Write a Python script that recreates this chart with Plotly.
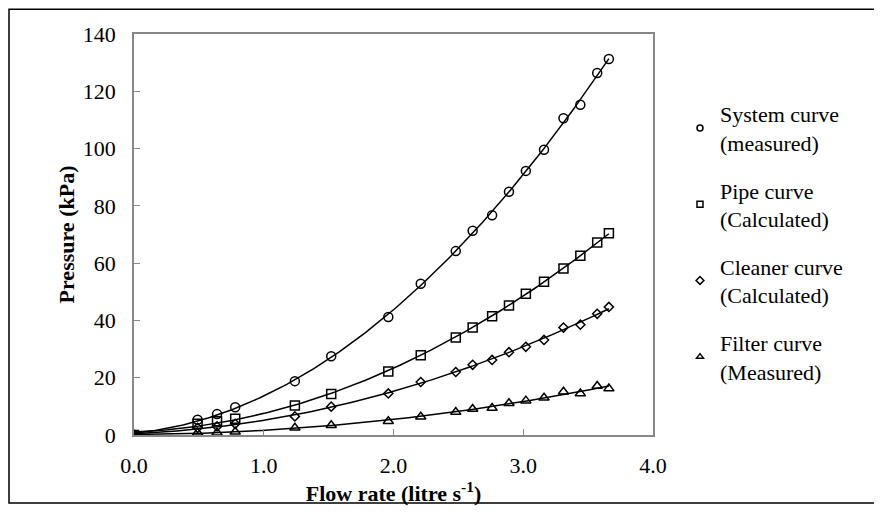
import numpy as np
import plotly.graph_objects as go

flow = [0.0, 0.49, 0.64, 0.78, 1.24, 1.52, 1.96, 2.21, 2.48, 2.61, 2.76, 2.89, 3.02, 3.16, 3.31, 3.44, 3.57, 3.66]
system = [0.0, 5.3, 7.3, 9.7, 18.8, 27.5, 41.2, 52.8, 64.2, 71.3, 76.7, 84.9, 92.2, 99.6, 110.6, 115.3, 126.4, 131.3]
pipe = [0.0, 3.9, 4.8, 5.7, 10.3, 14.3, 22.2, 27.8, 34.0, 37.5, 41.5, 45.2, 49.3, 53.5, 58.1, 62.6, 67.2, 70.4]
cleaner = [0.0, 2.5, 3.0, 3.9, 6.5, 9.9, 14.5, 18.5, 22.0, 24.5, 26.2, 28.9, 30.8, 33.2, 37.5, 38.5, 42.3, 44.7]
filt = [0.0, 0.8, 0.8, 1.1, 2.5, 3.4, 4.8, 6.4, 8.0, 9.1, 9.4, 11.1, 12.0, 13.0, 15.1, 14.5, 17.1, 16.2]

names = ["System curve<br>(measured)", "Pipe curve<br>(Calculated)",
         "Cleaner curve<br>(Calculated)", "Filter curve<br>(Measured)"]
series = [system, pipe, cleaner, filt]
symbols = ["circle-open", "square-open", "diamond-open", "triangle-up-open"]
sizes = [9, 9, 7, 9]

fig = go.Figure()
xfine = np.linspace(0, max(flow), 200)
for ys in series:
    # 2nd-order polynomial trendline fitted to each series (as in the original chart)
    coef = np.polyfit(flow, ys, 2)
    fig.add_trace(go.Scatter(x=xfine, y=np.polyval(coef, xfine), mode="lines",
                             line=dict(color="black", width=1.5), showlegend=False,
                             hoverinfo="skip"))
for i, (ys, sym, sz) in enumerate(zip(series, symbols, sizes)):
    fig.add_trace(go.Scatter(x=flow, y=ys, mode="markers", showlegend=False,
                             marker=dict(symbol=sym, size=sz, color="black",
                                         line=dict(color="black", width=1.5))))
# legend entries with small symbols, like the original legend
for i, (nm, sym) in enumerate(zip(names, symbols)):
    fig.add_trace(go.Scatter(x=[None], y=[None], mode="markers", name=nm, legendgroup=str(i),
                             marker=dict(symbol=sym, size=6, color="black",
                                         line=dict(color="black", width=1.5))))

font = "Liberation Serif, Times New Roman, serif"
W, H = 874, 504
L, R, T, B = 126, 229, 26, 71
pw, ph = W - L - R, H - T - B
fig.update_layout(
    width=W, height=H,
    margin=dict(l=L, r=R, t=T, b=B),
    paper_bgcolor="white", plot_bgcolor="white",
    font=dict(family=font, size=22, color="black"),
    legend=dict(x=1.052, y=0.853, xanchor="left", yanchor="top", tracegroupgap=16,
                font=dict(family=font, size=22, color="black"), itemwidth=30,
                bgcolor="rgba(0,0,0,0)"),
    xaxis=dict(range=[0, 4], tickvals=[0, 1, 2, 3, 4], tickformat=".1f",
               showgrid=False, zeroline=False, showline=True, mirror=True,
               linecolor="#888888", linewidth=1.5, ticks="inside", ticklen=6,
               tickcolor="#888888", tickfont=dict(size=22), ticklabelstandoff=10,
               title=dict(text="<b>Flow rate (litre s<sup>-1</sup>)</b>", font=dict(size=22), standoff=6)),
    yaxis=dict(range=[0, 140], tickvals=[0, 20, 40, 60, 80, 100, 120, 140],
               showgrid=False, zeroline=False, showline=True, mirror=True,
               linecolor="#888888", linewidth=1.5, ticks="inside", ticklen=6,
               tickcolor="#888888", tickfont=dict(size=22), ticklabelstandoff=12,
               title=dict(text="<b>Pressure (kPa)</b>", font=dict(size=22), standoff=2)),
    shapes=[dict(type="rect", xref="paper", yref="paper",
                 x0=(1 - L) / pw, x1=(W - 2 - L) / pw,
                 y0=(T + ph - (H - 2)) / ph, y1=(T + ph - 1) / ph,
                 line=dict(color="black", width=1.5), fillcolor="rgba(0,0,0,0)")],
)
fig.write_html("out.html")
